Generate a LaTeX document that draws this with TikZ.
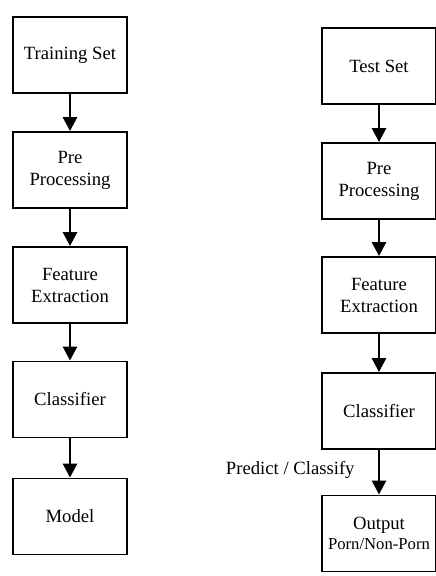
\documentclass[tikz,border=0pt]{standalone}
\usepackage{fontspec}
\setmainfont{Liberation Serif}
\usetikzlibrary{arrows.meta}

\tikzset{
	stagebox/.style={draw, line width=1.4pt, minimum width=85pt, minimum height=57pt,
		align=center, inner sep=2pt, font=\rmfamily\fontsize{14}{16.5}\selectfont},
	flow/.style={line width=2pt, -{Triangle[width=10.5pt, length=10.5pt]}}
}

\begin{document}
\begin{tikzpicture}[x=0.75pt, y=-0.75pt]
		\useasboundingbox (0,0) rectangle (436,576);

		% Draw the training column
		\node[stagebox] (train) at (70, 55) {Training Set};
		\node[stagebox] (trainpre) at (70, 170) {Pre\\Processing};
		\node[stagebox] (trainfeat) at (70, 285) {Feature\\Extraction};
		\node[stagebox] (traincls) at (70, 399.5) {Classifier};
		\node[stagebox] (model) at (70, 516.5) {Model};

		% Draw the test column
		\node[stagebox] (test) at (379, 66) {Test Set};
		\node[stagebox] (testpre) at (379, 181) {Pre\\Processing};
		\node[stagebox] (testfeat) at (379, 295) {Feature\\Extraction};
		\node[stagebox] (testcls) at (379, 411) {Classifier};
		\node[stagebox] (output) at (379, 533.5) {Output\\[-2pt]{\fontsize{12.5}{14}\selectfont Porn/Non-Porn}};

		% Draw the arrows between the stages
		\draw[flow] (train) -- (trainpre);
		\draw[flow] (trainpre) -- (trainfeat);
		\draw[flow] (trainfeat) -- (traincls);
		\draw[flow] (traincls) -- (model);

		\draw[flow] (test) -- (testpre);
		\draw[flow] (testpre) -- (testfeat);
		\draw[flow] (testfeat) -- (testcls);
		\draw[flow] (testcls) -- (output) node[midway, left=14pt, font=\rmfamily\fontsize{14}{16.5}\selectfont, yshift=2pt] (predict) {Predict / Classify};
	\end{tikzpicture}
\end{document}
